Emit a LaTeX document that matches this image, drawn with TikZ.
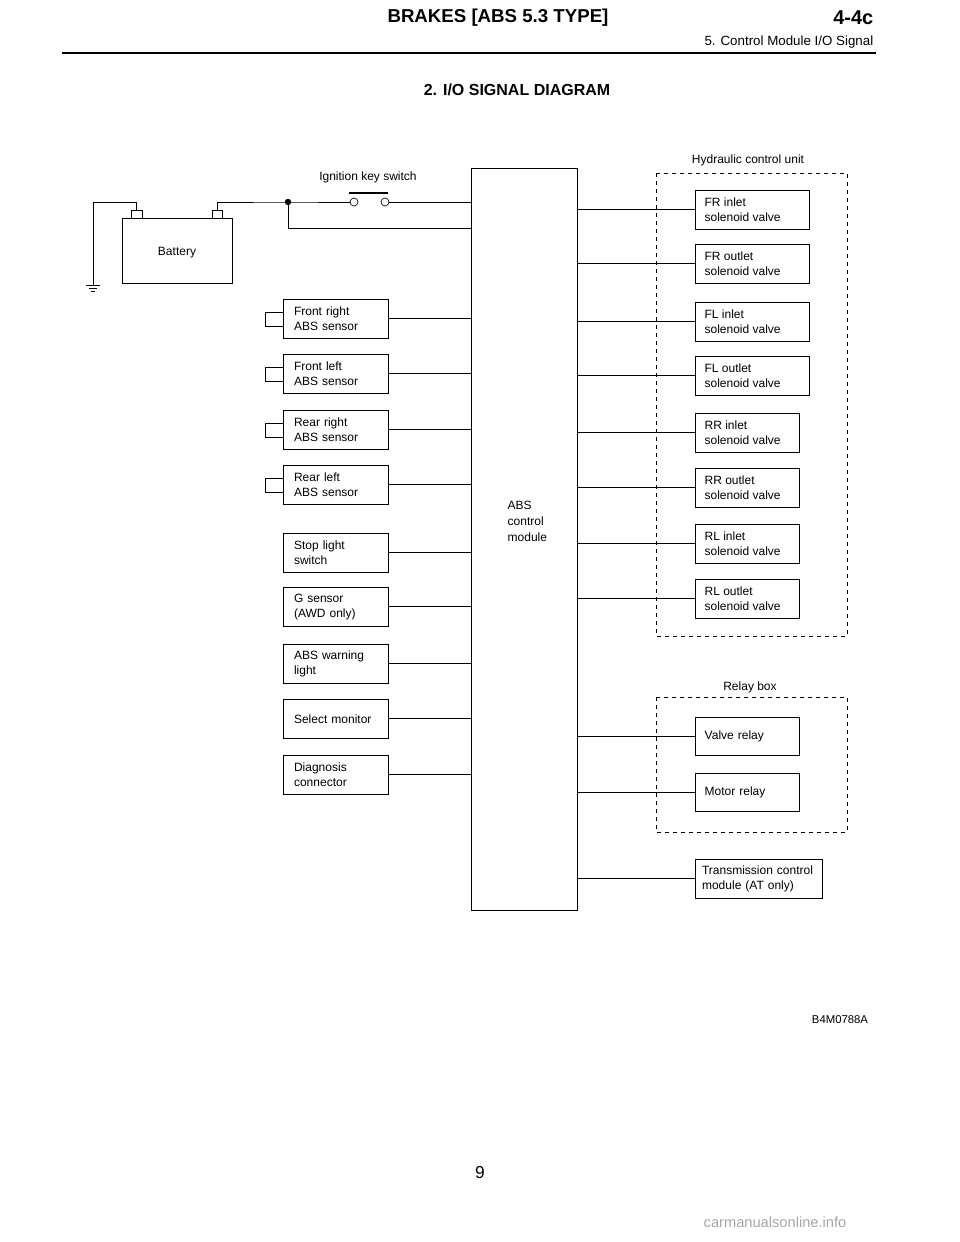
\documentclass[tikz,border=0pt]{standalone}
\usepackage{fontspec}
\setmainfont{Liberation Sans}
\tikzset{
  unitbox/.style={draw,line width=0.6pt,anchor=north west,align=left,inner sep=0pt,
    text width=#1,minimum height=29.25pt,font=\fontsize{9}{11}\selectfont},
  wire/.style={line width=0.7pt},
  groupbox/.style={draw,dashed,line width=0.6pt},
}
\begin{document}
\begin{tikzpicture}[x=0.75pt,y=0.75pt,yscale=-1,xscale=1]
\useasboundingbox (0,0) rectangle (960,1242);

% Header
\node (hdr) at (498,18) {\fontsize{14}{16}\selectfont\bfseries BRAKES [ABS 5.3 TYPE]};
\node [anchor=east] (sec) at (878,18) {\fontsize{15}{16}\selectfont\bfseries 4-4c};
\node [anchor=east] (sub) at (878,42) {\fontsize{10}{12}\selectfont 5. Control Module I/O Signal};
\draw [line width=2.2pt] (62,53) -- (876,53);
\node (ttl) at (517,90) {\fontsize{12}{14}\selectfont\bfseries 2. I/O SIGNAL DIAGRAM};

%Shape: ABS control module
\node [draw,line width=0.6pt,anchor=north west,minimum width=79.5pt,minimum height=556.5pt,inner sep=0pt] (ecu) at (471,168) {};
\node [anchor=west,align=left,font=\fontsize{9}{12}\selectfont] (abs) at (503,521) {ABS\\control\\module};

%Shape: Battery
\draw [line width=0.6pt] (122,218) rectangle (232,283);
\node (bat) at (177,253) {\fontsize{9}{11}\selectfont Battery};
\draw [line width=0.6pt] (131,210) rectangle (142,218);
\draw [line width=0.6pt] (212,210) rectangle (222,218);
% ground
\draw [wire] (136,210) -- (136,202) -- (93,202) -- (93,285);
\draw [wire] (86,285) -- (100,285);
\draw [line width=0.5pt] (89,288) -- (97,288);
\draw [line width=0.5pt] (91,291) -- (95,291);
% ignition key switch
\coordinate (jn) at (288,202);
\draw [wire] (217,210) -- (217,202) -- (jn) -- (350,202);
\draw [wire] (389,202) -- (ecu.west |- jn);
\draw [line width=0.5pt] (354,202) circle (4);
\draw [line width=0.5pt] (385,202) circle (4);
\draw [line width=1.2pt] (349,193) -- (388,193);
\fill (jn) circle (3.2);
\draw [wire] (jn) -- (288,228) -- (471,228);
\node (ign) at (368,177) {\fontsize{9}{11}\selectfont Ignition key switch};

% Input units
\foreach \y/\txt/\sen in {299/{Front right\\ABS sensor}/1, 354/{Front left\\ABS sensor}/1,
    410/{Rear right\\ABS sensor}/1, 465/{Rear left\\ABS sensor}/1,
    533/{Stop light\\switch}/0, 587/{G sensor\\(AWD only)}/0,
    644/{ABS warning\\light}/0, 699/{Select monitor}/0, 755/{Diagnosis\\connector}/0}{
  \node [unitbox=62.75pt,inner xsep=8pt] (in\y) at (283,\y) {\txt};
  \draw [wire] (in\y.east) -- (in\y.east -| ecu.west);
  \ifnum\sen=1 \draw [line width=0.6pt] (in\y.west) ++(0,-7) -- ++(-18,0) -- ++(0,14) -- ++(18,0); \fi
}

%Hydraulic control unit
\draw [groupbox] (656,173) rectangle (847,636);
\node (hcu) at (748,160) {\fontsize{9}{11}\selectfont Hydraulic control unit};
\foreach \y/\w in {190/114, 244/114, 302/114, 356/114, 413/104, 468/104, 524/104, 579/104}{
  \node [unitbox=\w*0.75pt-14pt,inner xsep=7pt] (out\y) at (695,\y) {};
  \draw [wire] (out\y.west) -- (out\y.west -| ecu.east);
}
\foreach \y/\txt in {190/FR inlet, 244/FR outlet, 302/FL inlet, 356/FL outlet,
    413/RR inlet, 468/RR outlet, 524/RL inlet, 579/RL outlet}{
  \node [anchor=west,align=left,font=\fontsize{9}{11}\selectfont,inner sep=0pt] at ([xshift=7pt]out\y.west) {\txt\\solenoid valve};
}

%Relay box
\draw [groupbox] (656,697) rectangle (847,832);
\node (rly) at (750,687) {\fontsize{9}{11}\selectfont Relay box};
\node [unitbox=64pt,inner xsep=7pt,minimum height=28.5pt] (vr) at (695,717) {Valve relay};
\node [unitbox=64pt,inner xsep=7pt,minimum height=28.5pt] (mr) at (695,773) {Motor relay};
\draw [wire] (vr.west) -- (vr.west -| ecu.east);
\draw [line width=0.4pt] (mr.west) -- (mr.west -| ecu.east);

%Transmission control module
\node [unitbox=85.25pt,inner xsep=5pt] (tcm) at (695,859) {Transmission control\\module (AT only)};
\draw [wire] (tcm.west) -- (tcm.west -| ecu.east);

% Text Node
\node (fig) at (840,1020) {\fontsize{8.5}{10}\selectfont B4M0788A};
\node (pg) at (480,1173) {\fontsize{13}{14}\selectfont 9};
\node [text=black!35] (wm) at (775,1222) {\fontsize{11}{12}\selectfont carmanualsonline.info};
\end{tikzpicture}
\end{document}
